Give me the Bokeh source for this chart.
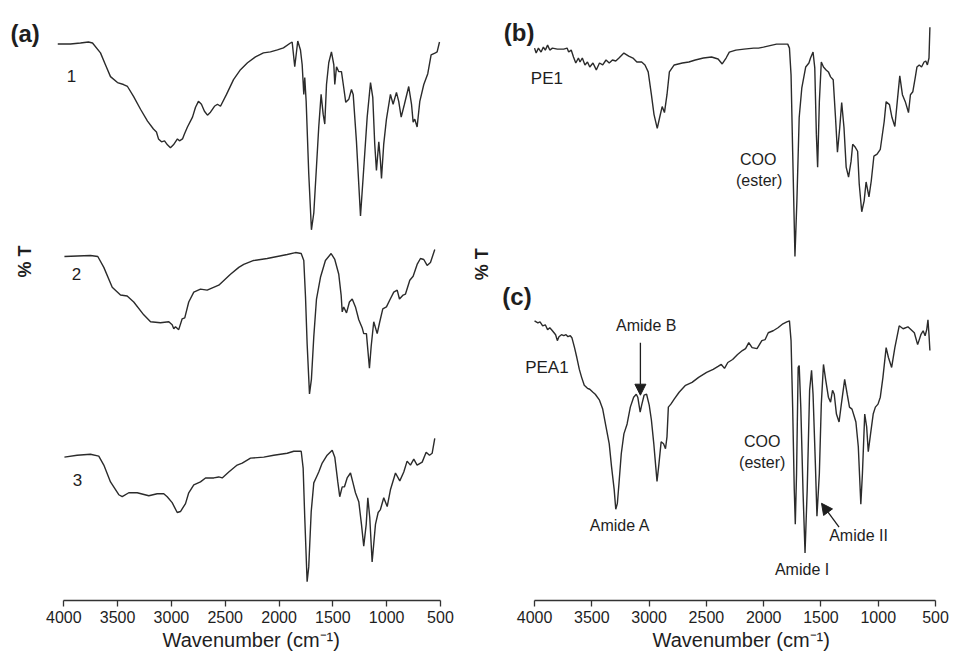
from math import pi
from bokeh.plotting import figure
from bokeh.layouts import row
from bokeh.models import Range1d, FixedTicker, Label, Arrow, NormalHead, Title
from bokeh.embed import file_html
from bokeh.resources import INLINE

# ---------------- data (wavenumber in cm-1, transmittance in arbitrary units) ----------------
WN_1 = [4056,3938,3845,3771,3733,3659,3613,3566,3501,3445,3408,3352,3287,3222,3167,3139,3120,3092,3064,3037,
        3009,2981,2944,2925,2897,2879,2851,2804,2776,2749,2721,2693,2665,2637,2600,2572,2544,2488,2423,2358,
        2293,2219,2145,2080,2015,1959,1894,1878,1854,1826,1801,1785,1770,1761,1748,1724,1699,1677,1652,1631,
        1609,1590,1575,1559,1538,1513,1491,1482,1466,1445,1420,1399,1380,1352,1327,1311,1281,1243,1218,1181,
        1150,1129,1111,1095,1073,1058,1048,1027,1002,965,940,909,888,865,835,795,769,754,739,717,
        692,655,618,587,547,531,509]
T_1 = [196,196,197,198,197,187,175,163,157,155,153,143,130,118,110,107,100,97,98,94,
       91,94,100,98,100,105,112,122,132,138,135,128,124,127,133,135,133,145,160,170,
       177,183,187,188,190,192,197,198,173,199,190,175,145,162,138,65,8,25,72,112,
       145,125,115,155,177,188,175,155,173,168,168,152,137,140,150,145,98,22,62,122,
       157,142,95,68,97,78,60,95,120,145,135,147,138,122,135,153,135,117,120,112,
       138,155,166,185,187,188,198]

WN_2 = [3994,3752,3684,3628,3550,3473,3411,3350,3257,3194,3102,3024,2993,2978,2962,2932,2900,2876,2839,2792,
        2730,2668,2560,2451,2374,2328,2235,2110,2017,1924,1847,1794,1770,1754,1739,1717,1699,1677,1652,1615,
        1569,1516,1482,1445,1423,1413,1399,1373,1346,1320,1290,1259,1228,1213,1188,1160,1144,1120,1088,1064,
        1036,1002,971,934,902,881,847,825,785,754,717,686,655,624,593,553]
T_2 = [151,152,151,140,120,112,111,105,92,85,84,85,82,78,80,77,88,89,105,115,
       118,117,122,133,140,143,147,149,151,153,155,154,147,110,63,12,27,70,108,130,
       147,154,148,133,112,95,100,94,105,108,100,87,79,73,73,38,60,85,73,85,
       98,100,107,115,117,108,112,113,127,131,143,149,148,142,145,158]

WN_3 = [3994,3876,3752,3675,3628,3566,3489,3457,3396,3318,3210,3132,3071,3039,2993,2946,2916,2869,2839,2792,
        2730,2683,2606,2560,2528,2467,2389,2342,2265,2142,2049,1924,1863,1794,1776,1761,1739,1724,1701,1677,
        1652,1631,1599,1553,1506,1482,1454,1436,1413,1392,1367,1336,1315,1290,1259,1234,1213,1190,1175,1157,
        1135,1104,1079,1058,1027,995,965,918,878,841,810,779,748,717,670,633,602,577,553]
T_3 = [138,140,141,139,130,113,100,98,102,102,99,101,101,98,92,82,83,91,102,110,
       113,117,117,118,117,123,130,132,137,138,140,142,144,144,127,77,12,27,83,112,
       118,123,132,140,145,138,113,98,108,108,117,122,113,102,93,70,48,70,97,77,
       32,70,82,85,97,88,105,122,114,123,134,130,136,130,133,143,140,142,157]

WN_PE1 = [4000,3986,3966,3943,3923,3906,3886,3867,3844,3801,3745,3716,3702,3680,3660,3640,3617,3603,3583,3560,
          3538,3518,3490,3461,3433,3405,3376,3348,3320,3291,3263,3220,3178,3141,3107,3065,3036,3008,2980,2957,
          2929,2908,2886,2866,2844,2823,2781,2710,2653,2597,2526,2455,2398,2362,2328,2300,2243,2172,2087,2045,
          2002,1888,1790,1775,1761,1747,1727,1710,1690,1667,1633,1605,1591,1569,1554,1540,1529,1514,1497,1478,
          1455,1435,1416,1393,1373,1356,1336,1319,1299,1280,1259,1237,1223,1200,1180,1166,1144,1123,1106,1081,
          1061,1038,1010,982,948,931,902,880,855,834,812,789,764,736,719,698,676,662,642,622,
          600,585,571,557,549]
T_PE1 = [217,212,217,213,218,215,220,215,217,216,216,217,213,215,208,202,207,203,207,200,
         203,198,202,195,202,200,205,202,205,204,207,212,209,207,203,203,200,193,170,150,
         136,147,158,152,170,193,200,202,203,205,207,208,206,201,207,213,215,216,217,217,
         218,221,221,217,190,113,7,63,147,177,198,202,207,213,197,130,97,163,203,198,
         195,193,188,185,147,112,137,162,137,97,87,103,120,117,113,80,52,63,82,67,
         83,108,110,115,143,163,160,147,138,163,189,170,163,152,170,173,188,198,200,198,
         203,204,200,207,238]

WN_PEA1 = [4000,3971,3952,3929,3906,3886,3867,3844,3816,3801,3787,3765,3745,3725,3708,3688,3674,3651,3631,3609,
           3589,3566,3538,3518,3490,3470,3433,3405,3376,3348,3328,3305,3291,3277,3263,3243,3220,3192,3164,3135,
           3112,3099,3078,3065,3044,3022,2999,2980,2959,2942,2931,2914,2895,2874,2857,2844,2832,2810,2781,2738,
           2682,2625,2568,2498,2441,2398,2370,2342,2313,2271,2228,2186,2158,2130,2101,2058,2016,1988,1960,1917,
           1875,1832,1798,1775,1761,1747,1733,1724,1713,1699,1690,1676,1656,1639,1620,1599,1582,1569,1548,1535,
           1514,1497,1478,1458,1435,1416,1399,1384,1365,1342,1322,1293,1271,1251,1229,1208,1195,1174,1152,1138,
           1118,1101,1087,1067,1044,1025,1002,982,959,931,911,883,855,817,783,741,713,685,656,628,
           608,591,577,566,557,549]
T_PEA1 = [257,255,256,252,253,248,250,247,243,237,241,243,242,243,241,242,240,230,220,208,
          200,192,189,188,185,183,177,168,150,133,110,87,67,73,93,123,143,153,170,180,
          183,180,165,172,182,183,172,157,133,110,95,113,135,133,128,140,170,173,178,185,
          192,195,200,205,208,211,213,209,215,218,223,227,229,235,230,229,237,238,245,247,
          250,254,256,257,237,170,87,52,103,210,212,170,83,23,87,187,207,183,110,60,
          103,173,213,197,180,175,187,183,163,155,173,198,183,170,168,160,155,130,72,103,
          163,150,125,143,163,170,173,180,200,230,220,210,230,252,249,251,248,245,233,243,
          247,242,248,258,243,227]

TICKS = [4000, 3500, 3000, 2500, 2000, 1500, 1000, 500]
X_TITLE = "Wavenumber (cm\u207b\u00b9)"
Y_TITLE = "% T"

# ---------------- styling ----------------
FONT = "Liberation Sans"
LINE = "#2b2b2b"
TXT = "#1e1e1e"
H = 654
BOTTOM = 54


def make_fig(width, xr, yr, title_offset):
    p = figure(width=width, height=H, x_range=Range1d(*xr), y_range=Range1d(*yr),
               y_axis_type=None, toolbar_location=None, output_backend="svg",
               min_border_left=0, min_border_right=0, min_border_top=0,
               min_border_bottom=BOTTOM)
    p.grid.visible = False
    p.outline_line_color = None
    ax = p.xaxis[0]
    ax.ticker = FixedTicker(ticks=TICKS)
    ax.bounds = (500, 4000)
    ax.axis_line_color = "#333333"
    ax.axis_line_width = 1.3
    ax.major_tick_line_color = "#333333"
    ax.major_tick_line_width = 1.3
    ax.major_tick_out = 6
    ax.major_tick_in = 0
    ax.minor_tick_line_color = None
    ax.major_label_standoff = 4
    ax.major_label_text_font = FONT
    ax.major_label_text_font_size = "16px"
    ax.major_label_text_color = TXT
    t = Title(text=X_TITLE, align="left", offset=title_offset, standoff=2,
              text_font=FONT, text_font_size="20px", text_font_style="normal",
              text_color=TXT)
    p.add_layout(t, "below")
    return p


def lab(p, x, y, text, size, bold=False, align="center", angle=0.0):
    p.add_layout(Label(x=x, y=y, text=text, text_font=FONT, text_font_size=f"{size}px",
                       text_font_style="bold" if bold else "normal", text_align=align,
                       text_baseline="middle", angle=angle, text_color=TXT))


def arrow(p, xs, ys, xe, ye):
    p.add_layout(Arrow(end=NormalHead(size=11, fill_color=TXT, line_color=TXT, line_width=1),
                       x_start=xs, y_start=ys, x_end=xe, y_end=ye,
                       line_color=TXT, line_width=1.3))


# ---------------- left panel (a) ----------------
pa = make_fig(470, (4588, 221), (63, 670), 162)
for wn, t, off in ((WN_1, T_1, 430), (WN_2, T_2, 260), (WN_3, T_3, 70)):
    pa.line([float(v) for v in wn], [v + off for v in t], line_color=LINE, line_width=1.4)

lab(pa, 4495, 637, "(a)", 24, bold=True, align="left")
lab(pa, 3928, 594, "1", 17)
lab(pa, 3882, 393, "2", 17)
lab(pa, 3873, 185, "3", 17)
lab(pa, 4356, 406, Y_TITLE, 18, bold=True, angle=pi / 2)

# ---------------- right panel (b) / (c) ----------------
pb = make_fig(479, (4559, 378), (65, 670), 182)
for wn, t, off in ((WN_PE1, T_PE1, 405), (WN_PEA1, T_PEA1, 90)):
    pb.line([float(v) for v in wn], [v + off for v in t], line_color=LINE, line_width=1.4)

lab(pb, 4269, 638, "(b)", 24, bold=True, align="left")
lab(pb, 4281, 372, "(c)", 24, bold=True, align="left")
lab(pb, 4462, 404, Y_TITLE, 18, bold=True, angle=pi / 2)
lab(pb, 3892, 591, "PE1", 17)
lab(pb, 2047, 510, "COO", 16)
lab(pb, 2040, 489, "(ester)", 16)
lab(pb, 3892, 300, "PEA1", 17)
lab(pb, 3025, 342, "Amide B", 16)
lab(pb, 3254, 141, "Amide A", 16)
lab(pb, 2013, 225, "COO", 16)
lab(pb, 2013, 204, "(ester)", 16)
lab(pb, 1665, 96, "Amide I", 16)
lab(pb, 1172, 131, "Amide II", 16)
arrow(pb, 3076, 325, 3076, 272)
arrow(pb, 1342, 139, 1495, 163)

layout = row(pa, pb)
open("out.html", "w").write(file_html(layout, INLINE))
